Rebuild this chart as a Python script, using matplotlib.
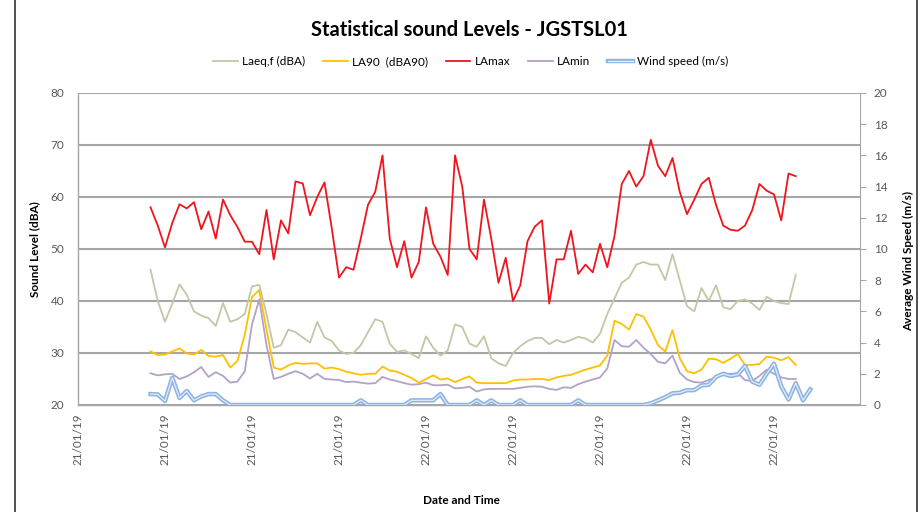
import pandas as pd
import matplotlib
matplotlib.use("Agg")
import matplotlib.pyplot as plt
import matplotlib.dates as mdates
import matplotlib.patheffects as pe
from matplotlib.lines import Line2D

# 15 minute logging interval
times = pd.date_range("2019-01-21 14:30", periods=92, freq="15min")

laeq = [46.0, 40.0, 36.0, 39.5, 43.2, 41.2, 38.0, 37.2, 36.7, 35.2,
        39.6, 36.0, 36.5, 37.5, 42.8, 43.1, 37.5, 31.0, 31.5, 34.5,
        34.0, 33.0, 32.0, 36.0, 33.0, 32.3, 30.5, 29.8, 30.0, 31.5,
        34.0, 36.5, 36.0, 31.8, 30.2, 30.5, 29.8, 29.0, 33.2, 31.0,
        29.5, 30.5, 35.5, 35.0, 31.8, 31.2, 33.2, 29.0, 28.0, 27.5,
        30.0, 31.3, 32.3, 32.9, 32.9, 31.7, 32.5, 32.0, 32.5, 33.1,
        32.8, 32.0, 33.7, 37.5, 40.5, 43.5, 44.5, 47.0, 47.5, 47.0,
        47.0, 44.0, 49.0, 44.0, 39.0, 38.0, 42.5, 40.0, 43.0, 38.8,
        38.4, 40.0, 40.3, 39.5, 38.3, 40.8, 40.0, 39.6, 39.4, 45.0]

la90 = [30.3, 29.6, 29.7, 30.3, 30.9, 29.9, 29.7, 30.6, 29.4, 29.3,
        29.6, 27.2, 28.5, 33.5, 40.8, 42.1, 34.5, 27.2, 26.8, 27.6,
        28.1, 27.9, 28.0, 28.0, 27.0, 27.2, 26.9, 26.4, 26.1, 25.8,
        26.0, 26.0, 27.4, 26.6, 26.4, 25.8, 25.2, 24.3, 25.0, 25.7,
        24.9, 25.1, 24.4, 25.0, 25.5, 24.3, 24.2, 24.2, 24.2, 24.2,
        24.7, 24.9, 24.9, 25.0, 25.0, 24.8, 25.3, 25.6, 25.8, 26.3,
        26.8, 27.2, 27.6, 29.5, 36.2, 35.6, 34.5, 37.5, 37.0, 34.5,
        31.5, 30.3, 34.4, 29.0, 26.5, 26.1, 26.8, 28.9, 28.8, 28.1,
        28.9, 29.8, 27.7, 27.7, 27.9, 29.3, 29.1, 28.6, 29.2, 27.7]

lamax = [58.0, 54.5, 50.3, 55.0, 58.6, 57.8, 59.0, 53.8, 57.2, 52.0,
         59.5, 56.5, 54.2, 51.4, 51.4, 49.0, 57.5, 48.0, 55.5, 53.0,
         63.0, 62.6, 56.5, 60.0, 62.8, 54.0, 44.5, 46.5, 46.0, 52.0,
         58.5, 61.0, 68.0, 52.0, 46.5, 51.5, 44.5, 47.5, 58.0, 51.0,
         48.5, 45.0, 68.0, 62.0, 50.0, 48.0, 59.5, 52.0, 43.5, 48.3,
         40.0, 43.0, 51.5, 54.3, 55.5, 39.5, 48.0, 48.0, 53.5, 45.2,
         47.0, 45.5, 51.0, 46.5, 52.5, 62.5, 65.0, 62.0, 64.0, 71.0,
         66.0, 64.0, 67.5, 61.0, 56.7, 59.5, 62.5, 63.7, 58.5, 54.5,
         53.7, 53.5, 54.5, 57.5, 62.5, 61.2, 60.5, 55.5, 64.5, 64.0]

lamin = [26.1, 25.7, 25.9, 26.0, 25.0, 25.5, 26.3, 27.3, 25.4, 26.3,
         25.6, 24.3, 24.5, 26.5, 35.5, 40.3, 31.5, 25.0, 25.4, 26.0,
         26.5, 26.0, 25.1, 26.0, 25.0, 24.9, 24.8, 24.4, 24.5, 24.3,
         24.1, 24.2, 25.4, 24.9, 24.6, 24.2, 23.9, 24.0, 24.3, 23.8,
         23.8, 23.9, 23.2, 23.3, 23.5, 22.6, 23.0, 23.1, 23.1, 23.1,
         23.1, 23.3, 23.5, 23.6, 23.5, 23.1, 22.9, 23.4, 23.3, 24.0,
         24.5, 24.9, 25.3, 27.0, 32.5, 31.3, 31.2, 32.5, 31.0, 29.8,
         28.3, 28.0, 29.5, 26.2, 24.9, 24.4, 24.3, 24.8, 25.3, 25.8,
         26.0, 26.1, 24.8, 24.6, 25.6, 26.8, 26.0, 25.3, 25.0, 25.0]

wind = [0.70, 0.68, 0.25, 1.75, 0.45, 0.90, 0.30, 0.55, 0.70, 0.70,
        0.30, 0.0, 0.0, 0.0, 0.0, 0.0, 0.0, 0.0, 0.0, 0.0,
        0.0, 0.0, 0.0, 0.0, 0.0, 0.0, 0.0, 0.0, 0.0, 0.30,
        0.0, 0.0, 0.0, 0.0, 0.0, 0.0, 0.30, 0.30, 0.30, 0.30,
        0.70, 0.0, 0.0, 0.0, 0.0, 0.30, 0.0, 0.30, 0.0, 0.0,
        0.0, 0.30, 0.0, 0.0, 0.0, 0.0, 0.0, 0.0, 0.0, 0.30,
        0.0, 0.0, 0.0, 0.0, 0.0, 0.0, 0.0, 0.0, 0.0, 0.10,
        0.30, 0.50, 0.75, 0.78, 0.95, 0.95, 1.25, 1.30, 1.80, 2.00,
        1.86, 1.95, 2.50, 1.50, 1.30, 2.00, 2.65, 1.20, 0.35, 1.40,
        0.30, 1.00]

plt.rcParams['font.family'] = ['Lato', 'DejaVu Sans']
grey_text = '#595959'
axis_grey = '#a6a6a6'

fig = plt.figure(figsize=(9.21, 5.12), dpi=100)
fig.subplots_adjust(left=0.0847, right=0.9338, top=0.8184, bottom=0.209)
ax = fig.add_subplot(111)

n = len(laeq)
ax.plot(times[:n], laeq, color='#c5c6a6', lw=1.3, label='Laeq,f (dBA)')
ax.plot(times[:n], la90, color='#ffc000', lw=1.3, label='LA90  (dBA90)')
ax.plot(times[:n], lamax, color='#f0141e', lw=1.3, label='LAmax')
ax.plot(times[:n], lamin, color='#b3a2c7', lw=1.3, label='LAmin')

ax.set_ylim(20, 80)
ax.set_yticks(range(20, 81, 10))
ax.set_xlim(pd.Timestamp("2019-01-21 12:00"), pd.Timestamp("2019-01-22 14:58"))
ax.xaxis.set_major_locator(mdates.HourLocator(byhour=range(0, 24, 3)))
ax.xaxis.set_major_formatter(mdates.DateFormatter('%d/%m/%y'))
ax.tick_params(axis='x', rotation=90, length=0, pad=6, labelsize=8.5, colors=grey_text)
ax.tick_params(axis='y', length=0, pad=10, labelsize=8.5, colors=grey_text)
ax.grid(axis='y', color=axis_grey, lw=1.5)
ax.set_axisbelow(True)
for side in ['top', 'right']:
    ax.spines[side].set_visible(False)
for side in ['left', 'bottom']:
    ax.spines[side].set_color(axis_grey)
    ax.spines[side].set_linewidth(1.0)

ax.set_ylabel('Sound Level (dBA)', fontsize=8.5, fontweight='bold')
ax.yaxis.set_label_coords(-0.048, 0.5)
ax.set_xlabel('Date and Time', fontsize=8.5, fontweight='bold')
ax.xaxis.set_label_coords(0.49, -0.29)

# wind on the secondary axis, drawn as a double line
ax2 = ax.twinx()
ax2.plot(times, wind, color='#e3ecf7', lw=0.9, label='Wind speed (m/s)',
         path_effects=[pe.Stroke(linewidth=3.2, foreground='#8eb4e3'), pe.Normal()])
ax2.set_ylim(0, 20)
ax2.set_yticks(range(0, 21, 2))
ax2.tick_params(axis='y', direction='out', length=4, color=axis_grey,
                labelsize=8.5, labelcolor=grey_text, pad=6)
for side in ['top', 'left', 'bottom']:
    ax2.spines[side].set_visible(False)
ax2.spines['right'].set_color(axis_grey)
ax2.set_ylabel('Average Wind Speed (m/s)', fontsize=8.5, fontweight='bold')
ax2.yaxis.set_label_coords(1.055, 0.46)

handles = ax.get_lines() + ax2.get_lines()
fig.legend(handles, [h.get_label() for h in handles], loc='center',
           bbox_to_anchor=(0.511, 0.879), ncol=5, frameon=False,
           fontsize=8.5, handlelength=2.1, columnspacing=1.5, handletextpad=0.35)

fig.suptitle('Statistical sound Levels - JGSTSL01', x=0.51, y=0.941,
             fontsize=14.5, fontweight='bold', va='center')

# outer frame lines of the chart area
fig.add_artist(Line2D([15 / 921, 15 / 921], [0, 1], color='#333333', lw=1.2))
fig.add_artist(Line2D([917 / 921, 917 / 921], [0, 1], color='#333333', lw=1.2))

fig.savefig('out.png', dpi=100)
